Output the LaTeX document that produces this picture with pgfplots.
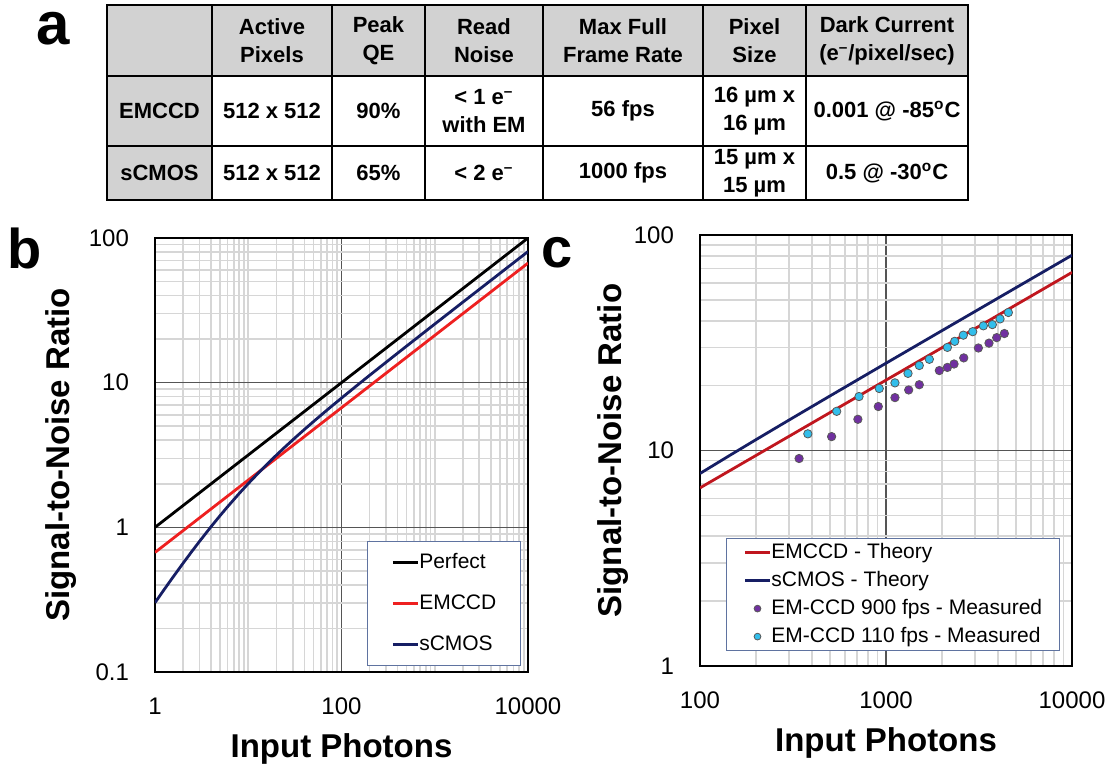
\documentclass[border=0pt]{standalone}
\usepackage{fontspec}
\setmainfont{Liberation Sans}
\usepackage{pgfplots}
\pgfplotsset{compat=1.18}

\definecolor{tgray}{RGB}{210,210,210}
\definecolor{majgrid}{RGB}{85,85,85}
\definecolor{mingrid}{RGB}{214,214,214}
\definecolor{redb}{RGB}{238,32,32}
\definecolor{navy}{RGB}{22,30,100}
\definecolor{redc}{RGB}{192,22,30}
\definecolor{purp}{RGB}{112,48,160}
\definecolor{cyanp}{RGB}{50,190,235}
\definecolor{legborder}{RGB}{95,115,160}

\begin{document}
\begin{tikzpicture}
\path[use as bounding box] (0pt,0pt) rectangle (554.5pt,-383pt);

% ---------------- panel a: table ----------------
\begin{scope}[x=0.5pt,y=-0.5pt]
\fill[tgray] (107,5) rectangle (968,76);
\fill[tgray] (107,76) rectangle (212,200);
\foreach \x in {212,332,425,543,703,806} \draw[line width=1.2pt] (\x,5) -- (\x,200);
\foreach \y in {76,146} \draw[line width=1.2pt] (107,\y) -- (968,\y);
\draw[line width=1.3pt] (107,5) rectangle (968,200);
\tikzset{tc/.style={font=\bfseries\fontsize{11}{14}\selectfont, align=center, inner sep=0pt}}
\node[tc] at (272,40.5) {Active\\Pixels};
\node[tc] at (378.5,40.5) {Peak\\QE};
\node[tc] at (484,40.5) {Read\\Noise};
\node[tc] at (623,40.5) {Max Full\\Frame Rate};
\node[tc] at (754.5,40.5) {Pixel\\Size};
\node[tc] at (887,40.5) {Dark Current\\(e\textsuperscript{–}/pixel/sec)};
\node[tc] at (159.5,111) {EMCCD};
\node[tc] at (272,111) {512 x 512};
\node[tc] at (378.5,111) {90\%};
\node[tc] at (484,111) {< 1 e\textsuperscript{–}\\with EM};
\node[tc] at (623,111) {56 fps};
\node[tc] at (754.5,111) {16 µm x\\16 µm};
\node[tc] at (887,111) {0.001 @ -85\textsuperscript{o}C};
\node[tc] at (159.5,173) {sCMOS};
\node[tc] at (272,173) {512 x 512};
\node[tc] at (378.5,173) {65\%};
\node[tc] at (484,173) {< 2 e\textsuperscript{–}};
\node[tc] at (623,173) {1000 fps};
\node[tc] at (754.5,173) {15 µm x\\15 µm};
\node[tc] at (887,173) {0.5 @ -30\textsuperscript{o}C};
\node[anchor=base west, inner sep=0pt, font=\bfseries\fontsize{30}{30}\selectfont] at (36,44.6) {a};
\node[anchor=base west, inner sep=0pt, font=\bfseries\fontsize{28}{28}\selectfont] at (7,268) {b};
\node[anchor=base west, inner sep=0pt, font=\bfseries\fontsize{28}{28}\selectfont] at (541,267) {c};
\end{scope}

% ---------------- panel b ----------------
\begin{loglogaxis}[
  scale only axis,
  at={(77.5pt,-119pt)}, anchor=north west,
  width=186.5pt, height=217pt,
  xmin=1, xmax=10000, ymin=0.1, ymax=100,
  grid=both,
  major grid style={draw=majgrid, line width=0.6pt},
  minor grid style={draw=mingrid, line width=0.8pt},
  axis line style={line width=1.4pt, black},
  major tick length=0pt, minor tick length=0pt,
  xticklabel style={font=\fontsize{12}{14}\selectfont, yshift=-9.5pt},
  yticklabel style={font=\fontsize{12}{14}\selectfont, xshift=-9.5pt},
  xtick={1,100,10000}, xticklabels={1,100,10000},
  minor xtick={2,3,4,5,6,7,8,9,10,20,30,40,50,60,70,80,90,200,300,400,500,600,700,800,900,1000,2000,3000,4000,5000,6000,7000,8000,9000},
  ytick={0.1,1,10,100}, yticklabels={0.1,1,10,100},
  minor ytick={0.2,0.3,0.4,0.5,0.6,0.7,0.8,0.9,2,3,4,5,6,7,8,9,20,30,40,50,60,70,80,90},
  xlabel={Input Photons}, ylabel={Signal-to-Noise Ratio},
  xlabel style={font=\bfseries\fontsize{16.5}{19}\selectfont, at={(axis description cs:0.5,-0.198)}, anchor=base},
  ylabel style={font=\bfseries\fontsize{16.5}{19}\selectfont, at={(axis description cs:-0.228,0.5)}, anchor=base},
  legend cell align=left,
  legend style={at={(axis description cs:0.568,0.302)}, anchor=north west,
    draw=legborder, line width=0.6pt, fill=white,
    font=\fontsize{10.5}{12}\selectfont,
    inner xsep=12pt, inner ysep=5.75pt, row sep=11pt, column sep=0pt,
    nodes={inner sep=0pt, text height=7.5pt, text depth=2pt}},
  legend image code/.code={\draw[#1] (0pt,0pt) -- (12.5pt,0pt);},
]
\addplot[black, line width=1.4pt] coordinates {(1,1) (10,3.1623) (100,10) (1000,31.623) (10000,100)};
\addlegendentry{Perfect}
\addplot[redb, line width=1.4pt] coordinates {(1,0.6708) (100,6.708) (10000,67.08)};
\addlegendentry{EMCCD}
\addplot[navy, line width=1.4pt] coordinates {
(1,0.3014) (1.25,0.3704) (1.5,0.4371) (2,0.5647) (2.5,0.6852) (3,0.7994) (4,1.0121)
(5,1.2070) (6,1.3876) (8,1.7144) (10,2.0059) (13,2.3948) (16,2.7406) (20,3.1530)
(25,3.6111) (32,4.1767) (40,4.7469) (50,5.3794) (65,6.2126) (80,6.9488) (100,7.8251)
(150,9.6776) (200,11.2303) (300,13.8232) (500,17.918) (1000,25.417) (2000,36.000)
(5000,56.974) (10000,80.598)};
\addlegendentry{sCMOS}
\end{loglogaxis}

% ---------------- panel c ----------------
\begin{loglogaxis}[
  scale only axis,
  at={(350pt,-117.5pt)}, anchor=north west,
  width=186pt, height=215.5pt,
  xmin=100, xmax=10000, ymin=1, ymax=100,
  grid=both,
  major grid style={draw=majgrid, line width=0.6pt},
  minor grid style={draw=mingrid, line width=0.8pt},
  axis line style={line width=1.4pt, black},
  major tick length=0pt, minor tick length=0pt,
  xticklabel style={font=\fontsize{12}{14}\selectfont, yshift=-9.5pt},
  yticklabel style={font=\fontsize{12}{14}\selectfont, xshift=-9.5pt},
  xtick={100,1000,10000}, xticklabels={100,1000,10000},
  minor xtick={200,300,400,500,600,700,800,900,2000,3000,4000,5000,6000,7000,8000,9000},
  ytick={1,10,100}, yticklabels={1,10,100},
  minor ytick={2,3,4,5,6,7,8,9,20,30,40,50,60,70,80,90},
  xlabel={Input Photons}, ylabel={Signal-to-Noise Ratio},
  xlabel style={font=\bfseries\fontsize{16.5}{19}\selectfont, at={(axis description cs:0.5,-0.1995)}, anchor=base},
  ylabel style={font=\bfseries\fontsize{16.5}{19}\selectfont, at={(axis description cs:-0.2097,0.5)}, anchor=base},
  legend cell align=left,
  legend style={at={(axis description cs:0.0699,0.297)}, anchor=north west,
    draw=legborder, line width=0.6pt, fill=white,
    font=\fontsize{10.5}{12}\selectfont,
    inner xsep=8.5pt, inner ysep=2.25pt, row sep=4.5pt, column sep=0pt,
    nodes={inner sep=0pt, text height=7.5pt, text depth=2pt}},
  legend image code/.code={\draw[#1] (0pt,0pt) -- (12.5pt,0pt);},
]
\addplot[redc, line width=1.4pt] coordinates {(100,6.708) (1000,21.213) (10000,67.08)};
\addlegendentry{EMCCD - Theory}
\addplot[navy, line width=1.4pt] coordinates {
(100,7.8251) (150,9.6776) (200,11.2303) (300,13.8232) (500,17.918) (1000,25.417)
(2000,36.000) (5000,56.974) (10000,80.598)};
\addlegendentry{sCMOS - Theory}
\addplot[only marks, mark=*, mark size=2.1pt, mark options={fill=purp, draw=black!65, line width=0.4pt},
  legend image code/.code={\path[draw=none, fill=none] (0pt,0pt) -- (12.5pt,0pt); \path[draw=black!65, fill=purp, line width=0.4pt] (6.25pt,0pt) circle[radius=1.7pt];}] coordinates {
(341,9.18) (510,11.6) (706,13.96) (909,16.0) (1117,17.6) (1324,19.1) (1510,20.2)
(1935,23.5) (2138,24.3) (2321,25.2) (2618,26.9) (3137,29.9) (3578,31.5) (3937,33.4) (4329,34.9)};
\addlegendentry{EM-CCD 900 fps - Measured}
\addplot[only marks, mark=*, mark size=2.1pt, mark options={fill=cyanp, draw=black!65, line width=0.4pt},
  legend image code/.code={\path[draw=none, fill=none] (0pt,0pt) -- (12.5pt,0pt); \path[draw=black!65, fill=cyanp, line width=0.4pt] (6.25pt,0pt) circle[radius=1.7pt];}] coordinates {
(380,11.95) (543,15.2) (716,17.8) (920,19.4) (1117,20.6) (1313,22.8) (1510,24.8) (1710,26.5)
(2138,30.1) (2340,32.1) (2604,34.3) (2925,35.6) (3337,37.9) (3730,38.4) (4102,40.8) (4548,43.7)};
\addlegendentry{EM-CCD 110 fps - Measured}
\end{loglogaxis}
\end{tikzpicture}
\end{document}
